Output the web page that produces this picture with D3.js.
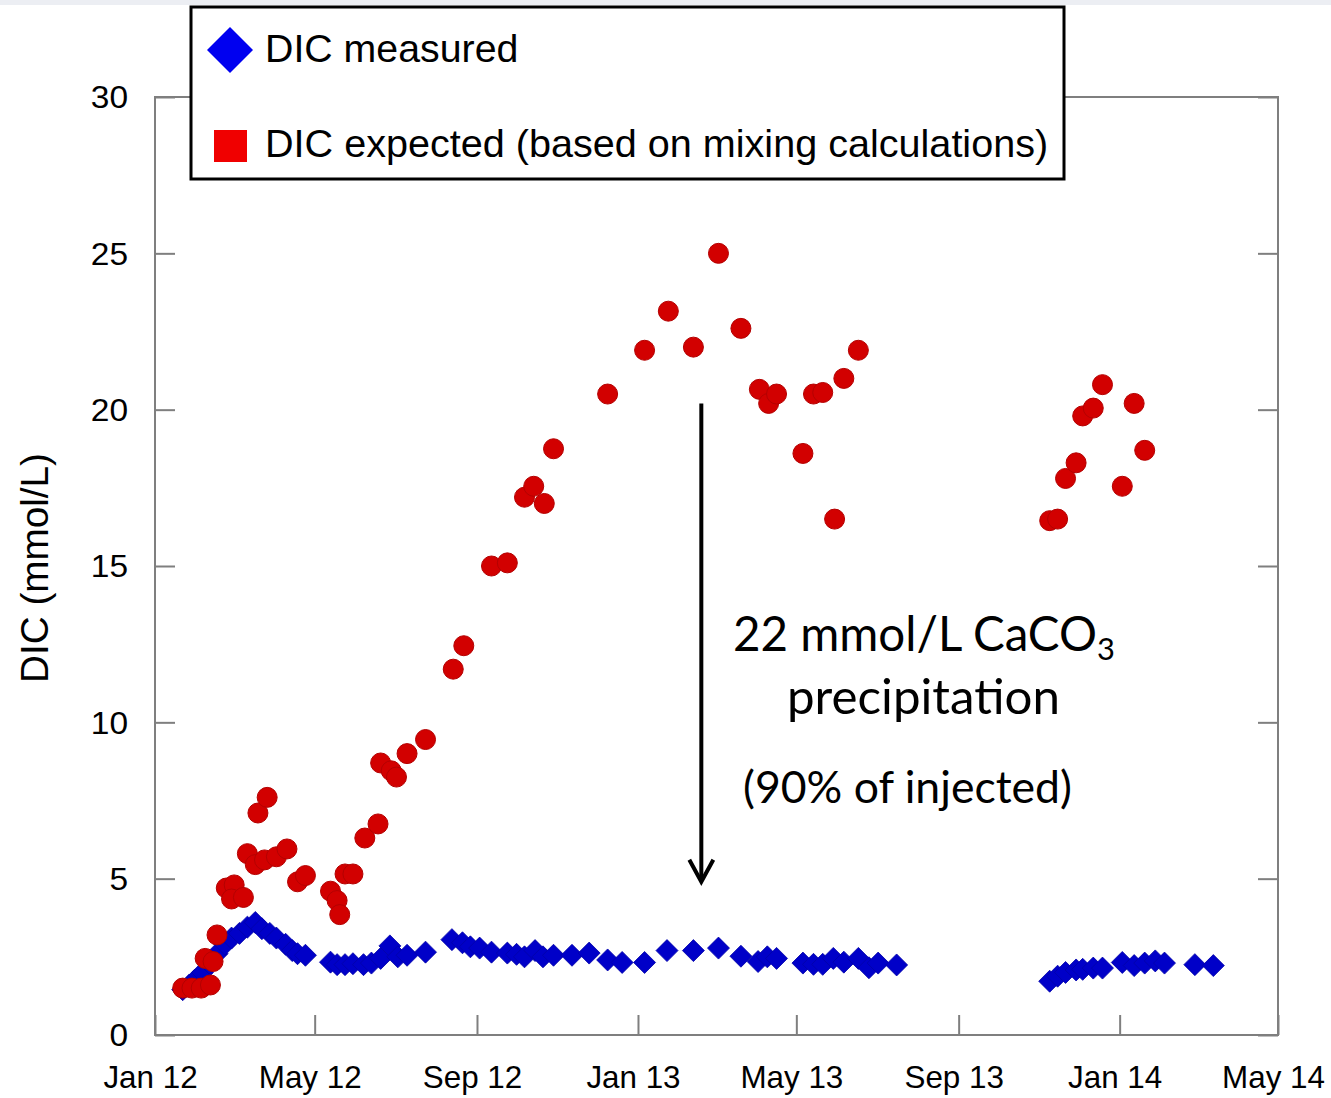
<!DOCTYPE html>
<html><head><meta charset="utf-8">
<script src="https://cdn.jsdelivr.net/npm/d3@7"></script>
<style>html,body{margin:0;padding:0;background:#fff;} svg{display:block}</style>
</head><body>
<svg id="chart" width="1331" height="1098"></svg>
<script>
// ---------- data ----------
const yTickValues = [0, 5, 10, 15, 20, 25, 30];
const xTickDates = ["2012-01-01","2012-05-01","2012-09-01","2013-01-01","2013-05-01","2013-09-01","2014-01-01","2014-05-01"];
const xTickLabels = ["Jan 12","May 12","Sep 12","Jan 13","May 13","Sep 13","Jan 14","May 14"];

const measuredDates = ["2012-01-22","2012-01-27","2012-01-31","2012-02-06","2012-02-11","2012-02-17","2012-02-23","2012-02-28","2012-03-05","2012-03-11","2012-03-17","2012-03-22","2012-03-28","2012-04-02","2012-04-09","2012-04-14","2012-04-18","2012-04-24","2012-05-13","2012-05-18","2012-05-24","2012-05-30","2012-06-07","2012-06-13","2012-06-20","2012-06-27","2012-07-03","2012-07-10","2012-07-24","2012-08-13","2012-08-21","2012-08-27","2012-09-03","2012-09-12","2012-09-24","2012-10-01","2012-10-07","2012-10-15","2012-10-21","2012-10-29","2012-11-12","2012-11-25","2012-12-09","2012-12-20","2013-01-06","2013-01-23","2013-02-12","2013-03-03","2013-03-20","2013-04-02","2013-04-09","2013-04-16","2013-05-06","2013-05-14","2013-05-21","2013-05-29","2013-06-06","2013-06-17","2013-06-25","2013-07-02","2013-07-16","2013-11-09","2013-11-15","2013-11-21","2013-11-29","2013-12-04","2013-12-12","2013-12-19","2014-01-03","2014-01-12","2014-01-20","2014-01-28","2014-02-04","2014-02-27","2014-03-13"];
const measuredDIC = [1.45,1.6,1.75,2.0,2.3,2.6,2.9,3.1,3.25,3.45,3.6,3.4,3.25,3.1,2.9,2.7,2.6,2.55,2.33,2.25,2.25,2.28,2.25,2.3,2.45,2.85,2.5,2.55,2.65,3.05,2.95,2.82,2.78,2.65,2.62,2.58,2.5,2.7,2.5,2.55,2.55,2.62,2.4,2.32,2.32,2.7,2.7,2.78,2.52,2.35,2.5,2.45,2.3,2.26,2.26,2.45,2.33,2.45,2.15,2.3,2.24,1.72,1.88,2.0,2.08,2.1,2.14,2.14,2.32,2.22,2.3,2.37,2.3,2.25,2.22];

const expectedDates = ["2012-01-22","2012-01-29","2012-02-05","2012-02-12","2012-02-08","2012-02-14","2012-02-17","2012-02-24","2012-03-01","2012-02-28","2012-03-08","2012-03-11","2012-03-17","2012-03-24","2012-04-02","2012-04-10","2012-03-19","2012-03-26","2012-04-18","2012-04-24","2012-05-13","2012-05-18","2012-05-20","2012-05-24","2012-05-30","2012-06-08","2012-06-18","2012-06-20","2012-06-28","2012-07-02","2012-07-10","2012-07-24","2012-08-14","2012-08-22","2012-09-12","2012-09-24","2012-10-07","2012-10-14","2012-10-22","2012-10-29","2012-12-09","2013-01-06","2013-01-24","2013-02-12","2013-03-03","2013-03-20","2013-04-03","2013-04-10","2013-04-16","2013-05-06","2013-05-14","2013-05-21","2013-05-30","2013-06-06","2013-06-17","2013-11-09","2013-11-15","2013-11-21","2013-11-29","2013-12-04","2013-12-12","2013-12-19","2014-01-03","2014-01-12","2014-01-20"];
const expectedDIC = [1.5,1.5,1.5,1.6,2.45,2.35,3.2,4.7,4.8,4.35,4.4,5.8,5.45,5.6,5.7,5.95,7.1,7.6,4.9,5.1,4.6,4.3,3.85,5.15,5.15,6.3,6.75,8.7,8.45,8.25,9.0,9.45,11.7,12.45,15.0,15.1,17.2,17.55,17.0,18.75,20.5,21.9,23.15,22.0,25.0,22.6,20.65,20.2,20.5,18.6,20.5,20.55,16.5,21.0,21.9,16.45,16.5,17.8,18.3,19.8,20.05,20.8,17.55,20.2,18.7];

const seriesNames = ["DIC measured", "DIC expected (based on mixing calculations)"];
const yTitle = "DIC (mmol/L)";
const noteLines = ["22 mmol/L CaCO", "precipitation", "(90% of injected)"];
const noteSub = "3";
const arrowDate = "2013-02-18";
const arrowFrom = 20.2, arrowTo = 4.9;

// ---------- drawing ----------
(function draw() {
const parse = d3.utcParse("%Y-%m-%d");
const W = 1331, H = 1098;
const pL = 155, pR = 1278, pT = 97, pB = 1035;
const svg = d3.select("#chart");

svg.append("rect").attr("x",0).attr("y",0).attr("width",W).attr("height",H).attr("fill","#fff");
svg.append("rect").attr("x",0).attr("y",0).attr("width",W).attr("height",5).attr("fill","#eceef3");

const x = d3.scaleUtc().domain([parse("2012-01-01"), parse("2014-05-01")]).range([pL, pR]);
const y = d3.scaleLinear().domain([0, 30]).range([pB, pT]);

const axisColor = "#7f7f7f";
const sans = "'Liberation Sans', Arial, sans-serif";

const gx = svg.append("g").attr("transform", `translate(0,${pB})`)
  .call(d3.axisBottom(x).tickValues(xTickDates.map(parse)).tickFormat((d,i)=>xTickLabels[i])
    .tickSizeInner(-20).tickSizeOuter(0).tickPadding(30));
const gy = svg.append("g").attr("transform", `translate(${pL},0)`)
  .call(d3.axisLeft(y).tickValues(yTickValues).tickFormat(d3.format("d"))
    .tickSizeInner(-20).tickSizeOuter(0).tickPadding(27));
const gr = svg.append("g").attr("transform", `translate(${pR},0)`)
  .call(d3.axisRight(y).tickValues(yTickValues).tickFormat("")
    .tickSizeInner(-20).tickSizeOuter(0));
[gx, gy, gr].forEach(g => {
  g.select(".domain").remove();
  g.selectAll(".tick line").attr("stroke", axisColor).attr("stroke-width", 2);
  g.selectAll(".tick text").attr("fill", "#000").attr("font-family", sans);
});
gx.selectAll(".tick text").attr("font-size", 32).attr("dx", -5)
  .attr("textLength", 100).attr("lengthAdjust", "spacingAndGlyphs");
gx.selectAll(".tick text").each(function() {
  const el = d3.select(this);
  el.attr("textLength", null);
  const w = this.getComputedTextLength();
  el.attr("textLength", w * 0.98);
});
gy.selectAll(".tick text").attr("font-size", 31).attr("dy", "0.35em");
gy.selectAll(".tick text").each(function() {
  const w = this.getComputedTextLength();
  d3.select(this).attr("textLength", w * 1.08).attr("lengthAdjust", "spacingAndGlyphs");
});

svg.append("rect").attr("x", pL).attr("y", pT).attr("width", pR-pL).attr("height", pB-pT)
  .attr("fill", "none").attr("stroke", axisColor).attr("stroke-width", 2);

svg.append("text").attr("transform", `translate(48,${(pT+pB)/2+2}) rotate(-90)`)
  .attr("text-anchor","middle").attr("font-family", sans).attr("font-size", 39)
  .attr("textLength", 230).attr("lengthAdjust","spacingAndGlyphs")
  .text(yTitle);

const measured = measuredDates.map((d,i)=>({date: parse(d), v: measuredDIC[i]}));
const expected = expectedDates.map((d,i)=>({date: parse(d), v: expectedDIC[i]}));
const dia = s => `M0,${-s}L${s},0L0,${s}L${-s},0Z`;

svg.append("g").selectAll("path").data(measured).join("path")
  .attr("d", dia(11))
  .attr("transform", d => `translate(${x(d.date)},${y(d.v)})`)
  .attr("fill", "#0000c8").attr("stroke", "#0000a8").attr("stroke-width", 0.8);

svg.append("g").selectAll("circle").data(expected).join("circle")
  .attr("cx", d => x(d.date)).attr("cy", d => y(d.v)).attr("r", 10)
  .attr("fill", "#d20000").attr("stroke", "#b40000").attr("stroke-width", 1);

const ax = x(parse(arrowDate));
const ay1 = y(arrowFrom), ay2 = y(arrowTo);
svg.append("line").attr("x1", ax).attr("x2", ax).attr("y1", ay1).attr("y2", ay2 - 2)
  .attr("stroke", "#000").attr("stroke-width", 4);
svg.append("path").attr("d", `M${ax-12},${ay2-22}L${ax},${ay2}L${ax+12},${ay2-22}`)
  .attr("fill", "none").attr("stroke", "#000").attr("stroke-width", 4).attr("stroke-linejoin","miter");

const noteFont = "Lato, 'Open Sans', sans-serif";
function fit(sel, w) {
  const cur = sel.node().getComputedTextLength();
  const fs = parseFloat(sel.attr("font-size"));
  sel.attr("font-size", fs * w / cur);
}
const t1 = svg.append("text").attr("x", 733).attr("y", 651).attr("font-family", noteFont).attr("font-size", 48).attr("fill","#000");
const t1a = t1.append("tspan").text(noteLines[0]);
const cw = t1a.node().getComputedTextLength();
const fs1 = 48 * 364 / cw;
t1.attr("font-size", fs1);
t1.append("tspan").attr("font-size", fs1*0.65).attr("dy", fs1*0.2).text(noteSub);

const t2 = svg.append("text").attr("x", 787).attr("y", 714).attr("font-family", noteFont).attr("font-size", 48).attr("fill","#000").text(noteLines[1]);
fit(t2, 273);
const t3 = svg.append("text").attr("x", 743).attr("y", 803).attr("font-family", noteFont).attr("font-size", 48).attr("fill","#000").text(noteLines[2]);
fit(t3, 329);

const lg = svg.append("g");
lg.append("rect").attr("x", 191).attr("y", 7).attr("width", 873).attr("height", 172)
  .attr("fill", "#fff").attr("stroke", "#000").attr("stroke-width", 3);
lg.append("path").attr("d", dia(23)).attr("transform", "translate(230,50)").attr("fill", "#0000f0");
lg.append("rect").attr("x", 214).attr("y", 130).attr("width", 33).attr("height", 32).attr("fill", "#f00000");
lg.append("text").attr("x", 265).attr("y", 62).attr("font-family", sans).attr("font-size", 39.3).text(seriesNames[0]);
lg.append("text").attr("x", 265).attr("y", 157).attr("font-family", sans).attr("font-size", 39.6).text(seriesNames[1]);
})();
</script>
</body></html>
